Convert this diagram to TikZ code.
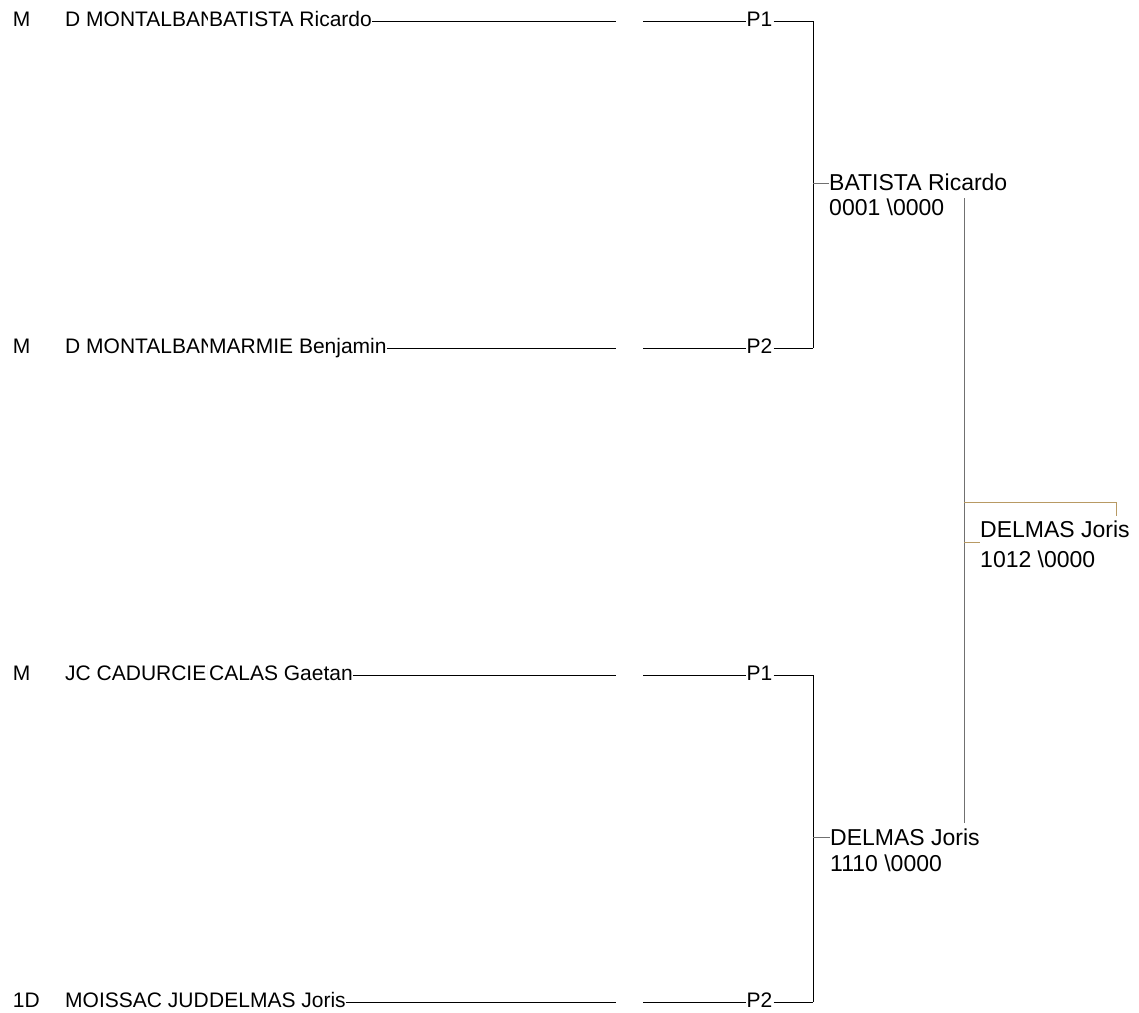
\documentclass[tikz,border=0pt]{standalone}
\usepackage{fontspec}
\setmainfont{Liberation Sans}
\definecolor{goldline}{HTML}{B89A64}
\definecolor{midgray}{HTML}{707070}
\begin{document}
\begin{tikzpicture}[x=1pt,y=-1pt,
  small/.style={font=\fontsize{21}{25}\selectfont, inner sep=0pt},
  big/.style={font=\fontsize{23}{27}\selectfont, inner sep=0pt},
  ln/.style={line width=1pt},
  tick/.style={line width=1pt, draw=midgray}]
\useasboundingbox (0,0) rectangle (1139,1012);
\foreach \i/\y/\cat/\club/\name/\p in {1/21/M/D MONTALBAN/BATISTA Ricardo/P1,
  2/348/M/D MONTALBAN/MARMIE Benjamin/P2,
  3/675/M/JC CADURCIEN/CALAS Gaetan/P1,
  4/1002/1D/MOISSAC JUDO/DELMAS Joris/P2}{
  \node[small, anchor=base west] (cat\i) at (12.7,\y+5.7) {\cat};
  \begin{scope}
    \clip (60,\y-20) rectangle (207,\y+10);
    \node[small, anchor=base west] (club\i) at (65,\y+5.7) {\club};
  \end{scope}
  \node[small, anchor=base west] (name\i) at (209,\y+5.7) {\name};
  \coordinate (a\i) at (616,\y);
  \coordinate (b\i) at (643,\y);
  \node[small, anchor=base west, inner xsep=1pt] (p\i) at (745.5,\y+5.7) {\p};
  \coordinate (v\i) at (813,\y);
  \draw[ln] (name\i.base east |- a\i) -- (a\i);
  \draw[ln] (b\i) -- (p\i.west |- b\i);
  \draw[ln] (p\i.east |- v\i) -- (v\i);
}
\draw[ln] (v1) -- (v2);
\draw[ln] (v3) -- (v4);
% semifinal winners
\coordinate (t1) at (813,183.5);
\node[big, anchor=base west] (w1) at (829,190.5) {BATISTA Ricardo};
\node[big, anchor=base west] (s1) at (829,215.5) {0001 \textbackslash 0000};
\draw[tick] (t1) -- (t1 -| w1.west);
\coordinate (t2) at (813,837.5);
\node[big, anchor=base west] (w2) at (830,845) {DELMAS Joris};
\node[big, anchor=base west] (s2) at (830,871) {1110 \textbackslash 0000};
\draw[tick] (t2) -- (t2 -| w2.west);
% final
\coordinate (r1) at (964,198);
\coordinate (r2) at (964,823);
\draw[tick] (r1) -- (r2);
\node[big, anchor=base west] (w3) at (980,537) {DELMAS Joris};
\node[big, anchor=base west] (s3) at (980,567) {1012 \textbackslash 0000};
\coordinate (g1) at (964,502.5);
\coordinate (g2) at (1116,502.5);
\coordinate (g3) at (1116,516);
\coordinate (g4) at (964,542);
\draw[ln, goldline] (g1) -- (g2) -- (g3);
\draw[ln, goldline] (g4) -- (g4 -| w3.west);
\end{tikzpicture}
\end{document}
